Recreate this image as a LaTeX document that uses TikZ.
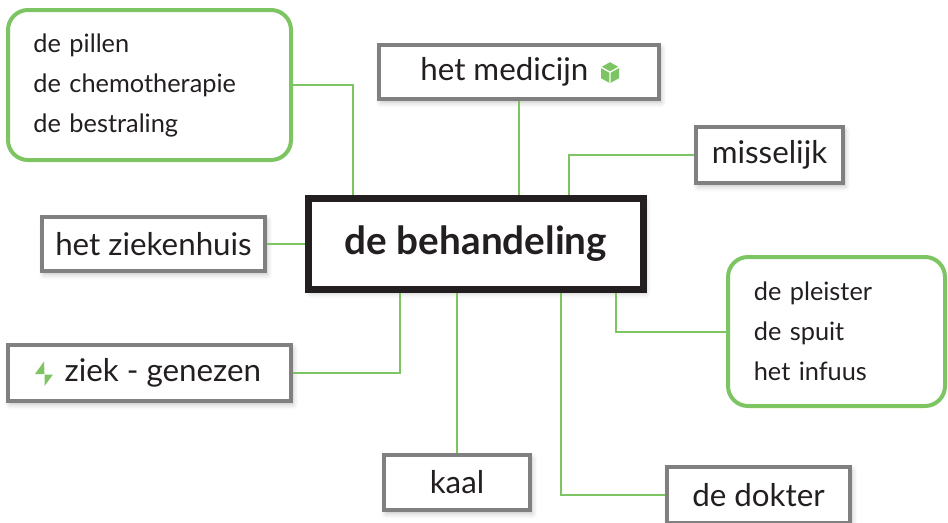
\documentclass[tikz,border=0pt]{standalone}
\usepackage{fontspec}
\setmainfont{Lato}
\usetikzlibrary{calc,shadows.blur}
\definecolor{lgreen}{HTML}{7DC462}
\definecolor{bgray}{HTML}{808080}
\definecolor{ink}{HTML}{231F20}
\begin{document}
\begin{tikzpicture}[x=0.75pt,y=-0.75pt,
  softshadow/.style={blur shadow={shadow xshift=1.5pt,shadow yshift=-2.5pt,shadow blur radius=4pt,shadow opacity=25}},
  graybox/.style={draw=bgray,line width=3pt,fill=white,inner sep=0pt,text=ink,
    font=\fontsize{23.5}{27}\selectfont,softshadow},
  greenbox/.style={draw=lgreen,line width=3pt,rounded corners=15pt,fill=white,inner sep=0pt,
    text=ink,align=left,font=\fontsize{19}{30}\selectfont},
  mainbox/.style={draw=ink,line width=5.25pt,fill=white,inner sep=0pt,text=ink,
    font=\fontsize{29}{33}\selectfont\bfseries,softshadow},
  link/.style={draw=lgreen,line width=1.5pt},
  icon/.style={fill=lgreen,draw=none}]
\useasboundingbox (0,0) rectangle (948,522);
% nodes
\node[mainbox,minimum width=251.25pt,minimum height=68.25pt] (center) at (476,244) {de behandeling};
\node[greenbox,minimum width=212.25pt,minimum height=112.5pt,text width=174pt] (pillen) at (149.5,85)
  {de pillen\\de chemotherapie\\de bestraling};
\node[graybox,minimum width=210pt,minimum height=40.5pt] (medicijn) at (519,72) {het medicijn\hspace*{22pt}};
\node[graybox,minimum width=110.25pt,minimum height=42pt] (misselijk) at (769.5,155) {misselijk};
\node[graybox,minimum width=167.25pt,minimum height=40.5pt] (ziekenhuis) at (153.5,244) {het ziekenhuis};
\node[greenbox,minimum width=162.75pt,minimum height=111.75pt,text width=124pt] (pleister) at (836.5,331.5)
  {de pleister\\de spuit\\het infuus};
\node[graybox,minimum width=212.25pt,minimum height=42pt] (ziek) at (149.5,373) {\hspace*{20pt}ziek - genezen};
\node[graybox,minimum width=109.5pt,minimum height=41.25pt] (kaal) at (457,482.5) {kaal};
\node[graybox,minimum width=137.25pt,minimum height=42pt] (dokter) at (758.5,495) {de dokter};
% connectors
\draw[link] (pillen.east) -| ($(center.north west)+(48,0)$);
\draw[link] (medicijn.south) -- (medicijn.south |- center.north);
\draw[link] (misselijk.west) -| ($(center.north west)+(264,0)$);
\draw[link] (ziekenhuis.east) -- (center.west);
\draw[link] (ziek.east) -| ($(center.south west)+(95,0)$);
\draw[link] (kaal.north) -- (kaal.north |- center.south);
\draw[link] (dokter.west) -| ($(center.south west)+(256,0)$);
\draw[link] (pleister.west) -| ($(center.south west)+(311,0)$);
% cube icon
\begin{scope}[shift={($(medicijn.east)+(-51,0.7)$)}]
  \fill[icon] (0,-10.5) -- (9,-5.5) -- (9,5.5) -- (0,10.5) -- (-9,5.5) -- (-9,-5.5) -- cycle;
  \draw[white,line width=1pt] (-9,-5.5) -- (0,-0.5) -- (9,-5.5) (0,-0.5) -- (0,10.5);
\end{scope}
% lightning icon
\begin{scope}[shift={(ziek.west)}]
  \fill[icon] (38,-11.5) -- (29,1) -- (38.5,1) -- cycle;
  \fill[icon] (38.5,1.5) -- (47,1.5) -- (38.5,13) -- cycle;
\end{scope}
\end{tikzpicture}
\end{document}
